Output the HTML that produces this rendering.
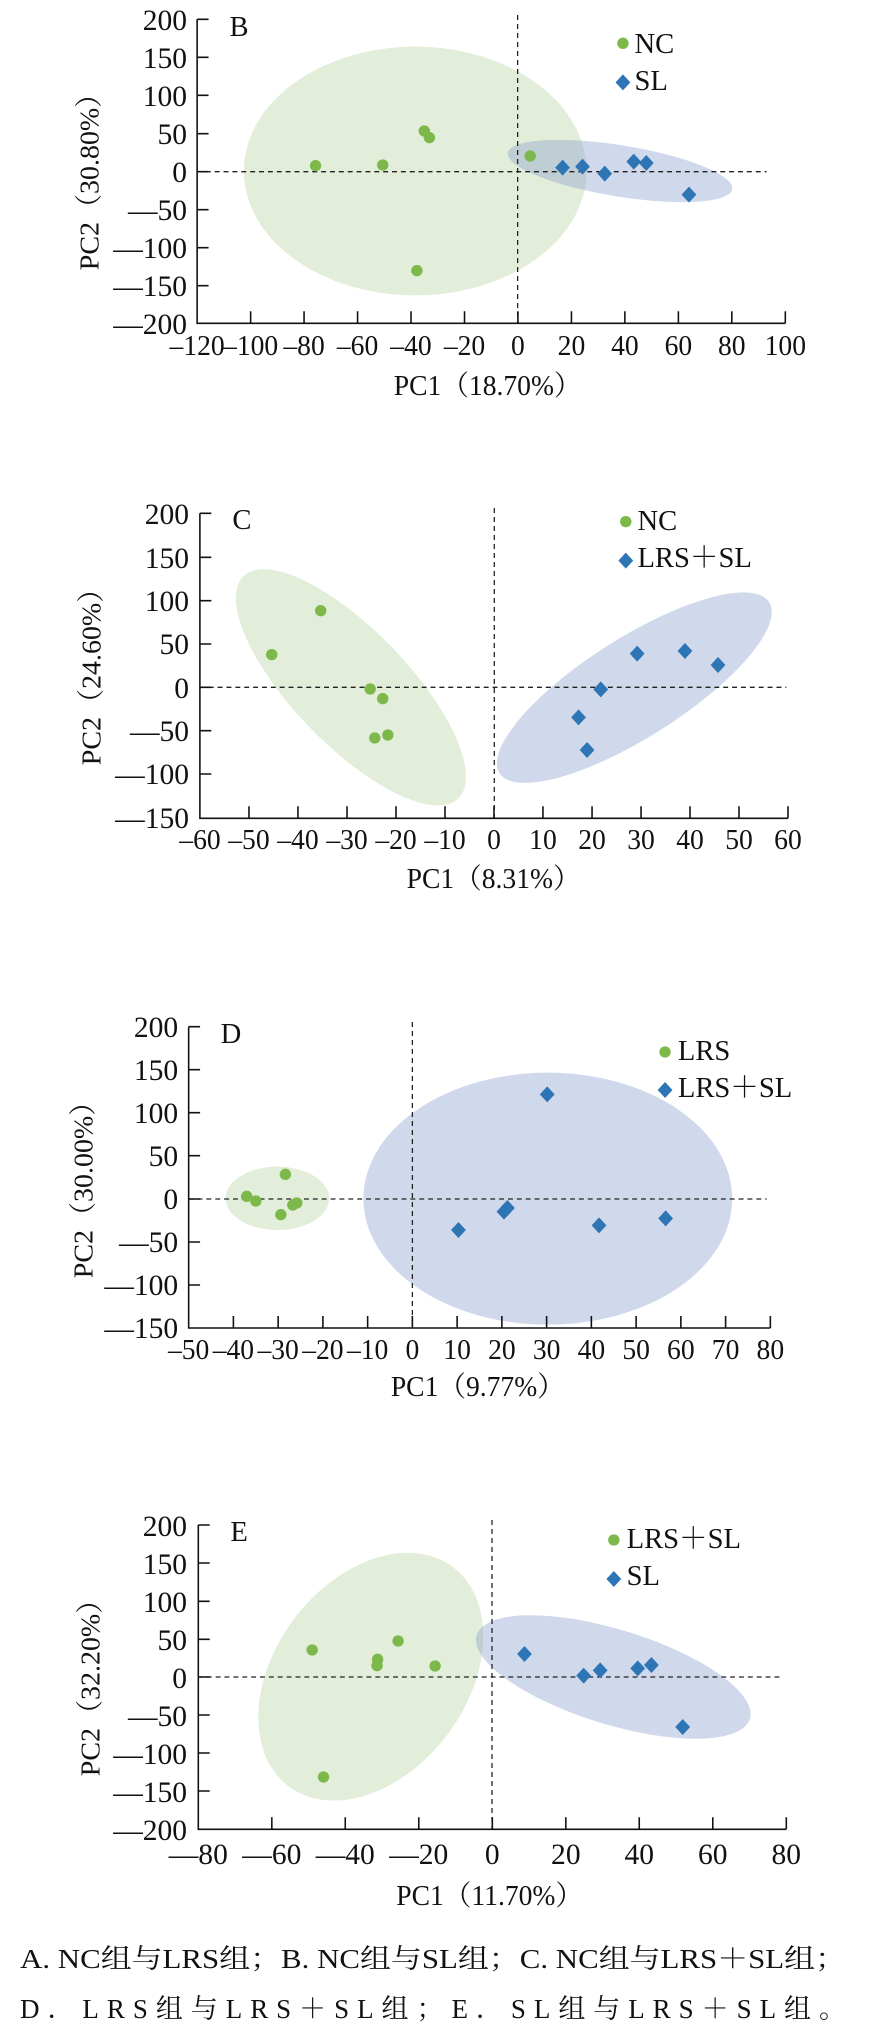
<!DOCTYPE html>
<html><head><meta charset="utf-8"><style>
html,body{margin:0;padding:0;background:#fff;}
svg{display:block;}
text{font-family:"Liberation Serif","Noto Serif CJK SC",serif;fill:#111;}
.yl{font-size:30px;text-anchor:end;}
.xl{font-size:28px;text-anchor:middle;}
.ti{font-size:28px;text-anchor:middle;}
.lg{font-size:29px;}
.ax{stroke:#111;stroke-width:1.6;fill:none;}
.ds{stroke:#222;stroke-width:1.3;stroke-dasharray:5 4;fill:none;}
.g{fill:#7cb84a;}
.b{fill:#2e75b6;}
.eg{fill:#e2eed9;}
.eb{fill:#8fa3d0;fill-opacity:0.42;}
</style></head><body>
<svg width="894" height="2035" viewBox="0 0 894 2035" xmlns="http://www.w3.org/2000/svg">
<rect width="894" height="2035" fill="#fff"/>
<g transform="translate(0.8,0) scale(0.98558,1)">

<!-- ===== PANEL B ===== -->
<g transform="translate(0,0) scale(0.57753,0.33333)">
  <ellipse class="eg" cx="728" cy="513" rx="301" ry="373"/>
  <ellipse class="eb" cx="1088" cy="513" rx="205" ry="75" transform="rotate(17 1088 513)"/>
</g>
<line class="ds" x1="524.4" y1="15" x2="524.4" y2="323"/>
<line class="ds" x1="199" y1="171.7" x2="777" y2="171.7"/>
<g transform="translate(0,0) scale(0.57753,0.33333)">
  <ellipse class="g" cx="553" cy="497" rx="10" ry="17"/>
  <ellipse class="g" cx="671" cy="495" rx="10" ry="17"/>
  <ellipse class="g" cx="744" cy="393" rx="10" ry="17"/>
  <ellipse class="g" cx="753" cy="413" rx="10" ry="17"/>
  <ellipse class="g" cx="731" cy="812" rx="10" ry="17"/>
  <ellipse class="g" cx="930" cy="468" rx="10" ry="17"/>
  <path class="b" d="M987 479l13 24-13 24-13-24z"/>
  <path class="b" d="M1022 476l13 24-13 24-13-24z"/>
  <path class="b" d="M1061 497l13 24-13 24-13-24z"/>
  <path class="b" d="M1112 461l13 24-13 24-13-24z"/>
  <path class="b" d="M1134 465l13 24-13 24-13-24z"/>
  <path class="b" d="M1209 560l13 24-13 24-13-24z"/>
  <ellipse class="g" cx="1093" cy="130" rx="10" ry="17"/>
  <path class="b" d="M1093 223l13 24-13 24-13-24z"/>
</g>
<path class="ax" d="M199.2 19.3V323.3H796"/>
<path class="ax" d="M199.2 19.3h11.6M199.2 57.3h11.6M199.2 95.3h11.6M199.2 133.7h11.6M199.2 171.7h11.6M199.2 209.7h11.6M199.2 247.7h11.6M199.2 285.7h11.6M253.5 323.3v-12M307.7 323.3v-12M362 323.3v-12M416.2 323.3v-12M470.5 323.3v-12M524.7 323.3v-12M579 323.3v-12M633.2 323.3v-12M687.5 323.3v-12M741.7 323.3v-12M796 323.3v-12"/>
<text class="yl" x="189" y="30">200</text>
<text class="yl" x="189" y="68">150</text>
<text class="yl" x="189" y="106">100</text>
<text class="yl" x="189" y="144">50</text>
<text class="yl" x="189" y="182">0</text>
<text class="yl" x="189" y="220">—50</text>
<text class="yl" x="189" y="258">—100</text>
<text class="yl" x="189" y="296">—150</text>
<text class="yl" x="189" y="334">—200</text>
<text class="xl" x="199.2" y="355">–120</text>
<text class="xl" x="253.5" y="355">–100</text>
<text class="xl" x="307.7" y="355">–80</text>
<text class="xl" x="362" y="355">–60</text>
<text class="xl" x="416.2" y="355">–40</text>
<text class="xl" x="470.5" y="355">–20</text>
<text class="xl" x="524.7" y="355">0</text>
<text class="xl" x="579" y="355">20</text>
<text class="xl" x="633.2" y="355">40</text>
<text class="xl" x="687.5" y="355">60</text>
<text class="xl" x="741.7" y="355">80</text>
<text class="xl" x="796" y="355">100</text>
<text class="ti" x="494" y="395">PC1（18.70%）</text>
<text class="ti" transform="translate(99,175) rotate(-90)" x="0" y="0">PC2（30.80%）</text>
<text class="lg" x="232" y="36">B</text>
<text class="lg" x="643" y="53">NC</text>
<text class="lg" x="643" y="90">SL</text>

<!-- ===== PANEL C ===== -->
<g transform="translate(0,480) scale(0.57753,0.33333)">
  <ellipse class="eg" cx="615" cy="622" rx="120" ry="390" transform="rotate(-26 615 622)"/>
  <ellipse class="eb" cx="1113" cy="623" rx="355" ry="118" transform="rotate(-51 1113 623)"/>
</g>
<line class="ds" x1="500.7" y1="508" x2="500.7" y2="818"/>
<line class="ds" x1="202" y1="687.3" x2="797" y2="687.3"/>
<g transform="translate(0,480) scale(0.57753,0.33333)">
  <ellipse class="g" cx="476" cy="524" rx="10" ry="17"/>
  <ellipse class="g" cx="562" cy="392" rx="10" ry="17"/>
  <ellipse class="g" cx="649" cy="627" rx="10" ry="17"/>
  <ellipse class="g" cx="671" cy="656" rx="10" ry="17"/>
  <ellipse class="g" cx="657" cy="774" rx="10" ry="17"/>
  <ellipse class="g" cx="680" cy="765" rx="10" ry="17"/>
  <path class="b" d="M1118 497l13 24-13 24-13-24z"/>
  <path class="b" d="M1202 489l13 24-13 24-13-24z"/>
  <path class="b" d="M1260 531l13 24-13 24-13-24z"/>
  <path class="b" d="M1054 604l13 24-13 24-13-24z"/>
  <path class="b" d="M1015 688l13 24-13 24-13-24z"/>
  <path class="b" d="M1030 786l13 24-13 24-13-24z"/>
  <ellipse class="g" cx="1098" cy="125" rx="10" ry="17"/>
  <path class="b" d="M1098 218l13 24-13 24-13-24z"/>
</g>
<path class="ax" d="M202 513.3V818.3H798.7"/>
<path class="ax" d="M202 513.3h11.6M202 557.3h11.6M202 600.7h11.6M202 644h11.6M202 687.3h11.6M202 730.7h11.6M202 774h11.6M251.8 818.3v-12M301.5 818.3v-12M351.3 818.3v-12M401 818.3v-12M450.7 818.3v-12M500.4 818.3v-12M550.1 818.3v-12M599.9 818.3v-12M649.6 818.3v-12M699.3 818.3v-12M749 818.3v-12M798.7 818.3v-12"/>
<text class="yl" x="191" y="524">200</text>
<text class="yl" x="191" y="568">150</text>
<text class="yl" x="191" y="611">100</text>
<text class="yl" x="191" y="654">50</text>
<text class="yl" x="191" y="698">0</text>
<text class="yl" x="191" y="741">—50</text>
<text class="yl" x="191" y="784">—100</text>
<text class="yl" x="191" y="828">—150</text>
<text class="xl" x="202.1" y="849">–60</text>
<text class="xl" x="251.8" y="849">–50</text>
<text class="xl" x="301.5" y="849">–40</text>
<text class="xl" x="351.3" y="849">–30</text>
<text class="xl" x="401" y="849">–20</text>
<text class="xl" x="450.7" y="849">–10</text>
<text class="xl" x="500.4" y="849">0</text>
<text class="xl" x="550.1" y="849">10</text>
<text class="xl" x="599.9" y="849">20</text>
<text class="xl" x="649.6" y="849">30</text>
<text class="xl" x="699.3" y="849">40</text>
<text class="xl" x="749" y="849">50</text>
<text class="xl" x="798.7" y="849">60</text>
<text class="ti" x="500" y="888">PC1（8.31%）</text>
<text class="ti" transform="translate(101,670) rotate(-90)" x="0" y="0">PC2（24.60%）</text>
<text class="lg" x="235" y="529">C</text>
<text class="lg" x="646" y="530">NC</text>
<text class="lg" x="646" y="567">LRS＋SL</text>

<!-- ===== PANEL D ===== -->
<g transform="translate(0,1000) scale(0.57753,0.33333)">
  <ellipse class="eg" cx="486" cy="595" rx="91" ry="95"/>
  <ellipse class="eb" cx="961" cy="596" rx="324" ry="378"/>
</g>
<line class="ds" x1="417.6" y1="1022" x2="417.6" y2="1328"/>
<line class="ds" x1="190.6" y1="1199" x2="777" y2="1199"/>
<g transform="translate(0,1000) scale(0.57753,0.33333)">
  <ellipse class="g" cx="432" cy="589" rx="10" ry="17"/>
  <ellipse class="g" cx="448" cy="603" rx="10" ry="17"/>
  <ellipse class="g" cx="500" cy="523" rx="10" ry="17"/>
  <ellipse class="g" cx="520" cy="609" rx="10" ry="17"/>
  <ellipse class="g" cx="513" cy="615" rx="10" ry="17"/>
  <ellipse class="g" cx="492" cy="644" rx="10" ry="17"/>
  <path class="b" d="M960 259l13 24-13 24-13-24z"/>
  <path class="b" d="M804 666l13 24-13 24-13-24z"/>
  <path class="b" d="M884 611l13 24-13 24-13-24z"/>
  <path class="b" d="M890 600l13 24-13 24-13-24z"/>
  <path class="b" d="M1051 652l13 24-13 24-13-24z"/>
  <path class="b" d="M1168 631l13 24-13 24-13-24z"/>
  <ellipse class="g" cx="1167" cy="156" rx="10" ry="17"/>
  <path class="b" d="M1167 246l13 24-13 24-13-24z"/>
</g>
<path class="ax" d="M190.6 1026.7V1328H780.8"/>
<path class="ax" d="M190.6 1026.7h11.6M190.6 1069.7h11.6M190.6 1112.7h11.6M190.6 1155.7h11.6M190.6 1199h11.6M190.6 1242h11.6M190.6 1285h11.6M236 1328v-12M281.4 1328v-12M326.8 1328v-12M372.2 1328v-12M417.6 1328v-12M463 1328v-12M508.4 1328v-12M553.8 1328v-12M599.2 1328v-12M644.6 1328v-12M690 1328v-12M735.4 1328v-12M780.8 1328v-12"/>
<text class="yl" x="180" y="1037">200</text>
<text class="yl" x="180" y="1080">150</text>
<text class="yl" x="180" y="1123">100</text>
<text class="yl" x="180" y="1166">50</text>
<text class="yl" x="180" y="1209">0</text>
<text class="yl" x="180" y="1252">—50</text>
<text class="yl" x="180" y="1295">—100</text>
<text class="yl" x="180" y="1338">—150</text>
<text class="xl" x="190.6" y="1359">–50</text>
<text class="xl" x="236" y="1359">–40</text>
<text class="xl" x="281.4" y="1359">–30</text>
<text class="xl" x="326.8" y="1359">–20</text>
<text class="xl" x="372.2" y="1359">–10</text>
<text class="xl" x="417.6" y="1359">0</text>
<text class="xl" x="463" y="1359">10</text>
<text class="xl" x="508.4" y="1359">20</text>
<text class="xl" x="553.8" y="1359">30</text>
<text class="xl" x="599.2" y="1359">40</text>
<text class="xl" x="644.6" y="1359">50</text>
<text class="xl" x="690" y="1359">60</text>
<text class="xl" x="735.4" y="1359">70</text>
<text class="xl" x="780.8" y="1359">80</text>
<text class="ti" x="484" y="1396">PC1（9.77%）</text>
<text class="ti" transform="translate(93,1183) rotate(-90)" x="0" y="0">PC2（30.00%）</text>
<text class="lg" x="223" y="1043">D</text>
<text class="lg" x="687" y="1060">LRS</text>
<text class="lg" x="687" y="1097">LRS＋SL</text>

<!-- ===== PANEL E ===== -->
<g transform="translate(0,1500) scale(0.57753,0.33333)">
  <ellipse class="eg" cx="650" cy="530" rx="183" ry="379" transform="rotate(13 650 530)"/>
  <ellipse class="eb" cx="1076" cy="531" rx="275" ry="130" transform="rotate(33 1076 531)"/>
</g>
<line class="ds" x1="498.4" y1="1520" x2="498.4" y2="1829"/>
<line class="ds" x1="200" y1="1677" x2="794" y2="1677"/>
<g transform="translate(0,1500) scale(0.57753,0.33333)">
  <ellipse class="g" cx="547" cy="450" rx="10" ry="17"/>
  <ellipse class="g" cx="567" cy="831" rx="10" ry="17"/>
  <ellipse class="g" cx="662" cy="478" rx="10" ry="17"/>
  <ellipse class="g" cx="661" cy="497" rx="10" ry="17"/>
  <ellipse class="g" cx="698" cy="423" rx="10" ry="17"/>
  <ellipse class="g" cx="763" cy="498" rx="10" ry="17"/>
  <path class="b" d="M920 438l13 24-13 24-13-24z"/>
  <path class="b" d="M1024 503l13 24-13 24-13-24z"/>
  <path class="b" d="M1053 487l13 24-13 24-13-24z"/>
  <path class="b" d="M1119 481l13 24-13 24-13-24z"/>
  <path class="b" d="M1143 471l13 24-13 24-13-24z"/>
  <path class="b" d="M1198 657l13 24-13 24-13-24z"/>
  <ellipse class="g" cx="1077" cy="120" rx="10" ry="17"/>
  <path class="b" d="M1077 213l13 24-13 24-13-24z"/>
</g>
<path class="ax" d="M200.4 1525V1829.3H797"/>
<path class="ax" d="M200.4 1525h11.6M200.4 1563h11.6M200.4 1601.3h11.6M200.4 1639.3h11.6M200.4 1677h11.6M200.4 1715h11.6M200.4 1753h11.6M200.4 1791h11.6M275 1829.3v-12M349.5 1829.3v-12M424.1 1829.3v-12M498.7 1829.3v-12M573.3 1829.3v-12M647.8 1829.3v-12M722.4 1829.3v-12M797 1829.3v-12"/>
<text class="yl" x="189" y="1536">200</text>
<text class="yl" x="189" y="1574">150</text>
<text class="yl" x="189" y="1612">100</text>
<text class="yl" x="189" y="1650">50</text>
<text class="yl" x="189" y="1688">0</text>
<text class="yl" x="189" y="1726">—50</text>
<text class="yl" x="189" y="1764">—100</text>
<text class="yl" x="189" y="1802">—150</text>
<text class="yl" x="189" y="1840">—200</text>
<text class="xl" x="200.4" y="1864" style="font-size:30px">—80</text>
<text class="xl" x="275" y="1864" style="font-size:30px">—60</text>
<text class="xl" x="349.5" y="1864" style="font-size:30px">—40</text>
<text class="xl" x="424.1" y="1864" style="font-size:30px">—20</text>
<text class="xl" x="498.7" y="1864" style="font-size:30px">0</text>
<text class="xl" x="573.3" y="1864" style="font-size:30px">20</text>
<text class="xl" x="647.8" y="1864" style="font-size:30px">40</text>
<text class="xl" x="722.4" y="1864" style="font-size:30px">60</text>
<text class="xl" x="797" y="1864" style="font-size:30px">80</text>
<text class="ti" x="496" y="1905">PC1（11.70%）</text>
<text class="ti" transform="translate(100,1681) rotate(-90)" x="0" y="0">PC2（32.20%）</text>
<text class="lg" x="233" y="1541">E</text>
<text class="lg" x="635" y="1548">LRS＋SL</text>
<text class="lg" x="635" y="1585">SL</text>
</g>

<!-- caption -->
<text x="20" y="1968" style="font-size:27px" textLength="826" lengthAdjust="spacingAndGlyphs">A. NC组与LRS组；B. NC组与SL组；C. NC组与LRS＋SL组；</text>
<text x="20" y="2018" style="font-size:27px" textLength="826" lengthAdjust="spacing">D．LRS组与LRS＋SL组；E．SL组与LRS＋SL组。</text>
</svg>
</body></html>
